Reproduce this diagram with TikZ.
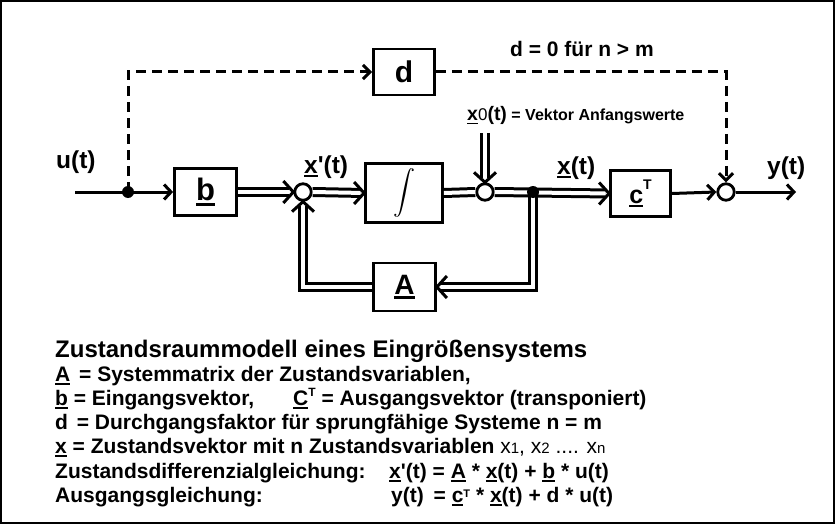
\documentclass[tikz,border=0pt]{standalone}
\usepackage{fontspec}
\setmainfont{Liberation Sans}[Ligatures=TeXOff]
\usetikzlibrary{arrows.meta,calc}
\newsavebox{\undlbox}
\newcommand{\undl}[1]{\sbox{\undlbox}{#1}\leavevmode\rlap{\rule[-0.17em]{\wd\undlbox}{0.09em}}\usebox{\undlbox}}
\newcommand{\fs}[1]{\fontsize{#1}{#1}\selectfont}
\begin{document}
\begin{tikzpicture}[x=1pt,y=-1pt,
  every node/.style={inner sep=0pt},
  blk/.style={draw, line width=2.8pt, fill=white, font=\bfseries},
  sumc/.style={circle, draw, line width=2.8pt, fill=white, minimum size=16.5pt},
  jdot/.style={circle, fill=black, minimum size=12pt},
  sarr/.style={line width=3pt, -{Straight Barb[length=7pt,width=15pt]}},
  dl/.style={line width=3pt, double=white, double distance=4pt},
  dla/.style={dl, shorten >=4pt},
  chev/.style={line width=3pt, line join=miter, line cap=butt},
  dsh/.style={line width=3pt, dash pattern=on 10pt off 6pt, -{Straight Barb[length=7pt,width=14pt]}},
  lbl/.style={anchor=base west, font=\fs{24.5}\bfseries},
  txt/.style={anchor=base west, font=\fs{21}\bfseries},
]
\useasboundingbox (0,0) rectangle (835,524);
\draw[line width=2pt] (1,1) rectangle (834,523);

% blocks
\node[blk, minimum width=62pt, minimum height=47pt] (b) at (205.5,192) {\fs{31}\undl{b}};
\node[blk, minimum width=77pt, minimum height=59pt] (int) at (404,193) {\scalebox{2.2}{$\displaystyle\int$}};
\node[blk, minimum width=61pt, minimum height=46pt] (d) at (404,72) {\fs{30}d};
\node[blk, minimum width=62pt, minimum height=48pt] (A) at (404.5,287) {\fs{28}\undl{A}};
\node[blk, minimum width=60pt, minimum height=46pt] (cT) at (640.5,193.5) {\fs{25}\undl{c}\raisebox{14pt}{\fs{14}T}};
\node[sumc] (c1) at (303,192) {};
\node[sumc] (c2) at (485,192) {};
\node[sumc] (c3) at (726,192) {};
\coordinate (j1) at (128,192);
\coordinate (j2) at (533,192);
\coordinate (uin) at (75,192);
\coordinate (yout) at (796,192);
\coordinate (x0top) at (485,133);

% dashed feed-through
\draw[dsh] (j1) |- (d.west);
\draw[dsh] (d.east) -| (c3.north);

% single lines
\draw[sarr] (uin) -- (b.west);
\draw[sarr] (cT.east) -- (c3.west);
\draw[sarr] (c3.east) -- (yout);

% double lines
\draw[dla] (b.east) -- (c1.west);
\draw[dla] (c1.east) -- (int.west);
\draw[dl] (int.east) -- (c2.west);
\draw[dla] (c2.east) -- (cT.west);
\draw[dla] (x0top) -- (c2.north);
\draw[dla] (j2) |- (A.east);
\draw[dla] (A.west) -| (c1.south);

% chevron tips of double lines
\draw[chev] ($(c1.west)+(-10,-11)$) -- (c1.west) -- ($(c1.west)+(-10,11)$);
\draw[chev] ($(int.west)+(-10,-11)$) -- (int.west) -- ($(int.west)+(-10,11)$);
\draw[chev] ($(cT.west)+(-10,-11)$) -- (cT.west) -- ($(cT.west)+(-10,11)$);
\draw[chev] ($(c2.north)+(-11,-10)$) -- (c2.north) -- ($(c2.north)+(11,-10)$);
\draw[chev] ($(A.east)+(10,-11)$) -- (A.east) -- ($(A.east)+(10,11)$);
\draw[chev] ($(c1.south)+(-11,10)$) -- (c1.south) -- ($(c1.south)+(11,10)$);

% junction dots
\node[jdot] (j1dot) at (j1) {};
\node[jdot] (j2dot) at (j2) {};

% signal labels
\node[lbl] (lu) at (56,168) {u(t)};
\node[lbl] (lxd) at (304,173) {\undl{x}'(t)};
\node[lbl] (lx) at (557,174) {\undl{x}(t)};
\node[lbl] (ly) at (767,174) {y(t)};
\node[anchor=base west, font=\fs{21}\bfseries] (ld) at (510,57) {d = 0 für n > m};
\node[anchor=base west] (lx0) at (467,121) {{\fs{19.5}\bfseries\undl{x}}{\fs{17}0}{\fs{19.5}\bfseries(t)}{\fs{16}\bfseries\ = Vektor Anfangswerte}};

% explanation text
\node[anchor=base west, font=\fs{24}\bfseries] (t1) at (55,357) {Zustandsraummodell eines Eingrößensystems};
\node[txt] (t2) at (55,381) {\undl{A}\hspace{3pt} = Systemmatrix der Zustandsvariablen,};
\node[txt] (t3) at (55,405) {\undl{b} = Eingangsvektor,};
\node[txt] (t3b) at (293,405) {\undl{C}\raisebox{9pt}{\fs{12}T} = Ausgangsvektor (transponiert)};
\node[txt] (t4) at (55,429) {d\hspace{3pt} = Durchgangsfaktor für sprungfähige Systeme n = m};
\node[txt] (t5) at (55,453) {\undl{x} = Zustandsvektor mit n Zustandsvariablen {\mdseries x{\fs{15}1}, x{\fs{15}2} .... x{\fs{15}n}}};
\node[txt] (t6) at (55,478) {Zustandsdifferenzialgleichung:};
\node[txt] (t6b) at (389,478) {\undl{x}'(t) = \undl{A} * \undl{x}(t) + \undl{b} * u(t)};
\node[txt] (t7) at (55,502) {Ausgangsgleichung:};
\node[txt] (t7b) at (391,502) {y(t)\hspace{4pt} = \undl{c}\raisebox{5pt}{\fs{11}T} * \undl{x}(t) + d * u(t)};
\end{tikzpicture}
\end{document}
